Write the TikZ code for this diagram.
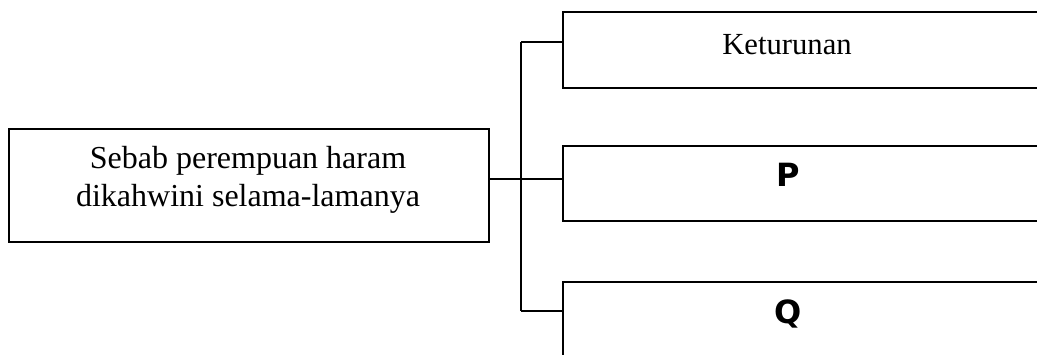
\documentclass[tikz,border=0pt]{standalone}
\usepackage{fontspec}
\setmainfont{Liberation Serif}
\newfontfamily\boldsans{DejaVu Sans Bold}
\usepackage{tikz}

\tikzset{
  boxnode/.style={draw, line width=1.4pt, anchor=north west, inner sep=0pt},
  linkline/.style={line width=1.4pt},
}

\begin{document}
\begin{tikzpicture}[x=0.75pt,y=0.75pt,yscale=-1,xscale=1]
\useasboundingbox (0,0) rectangle (1037,354);
\clip (0,0) rectangle (1037,354);

%Shape: Rectangle (left)
\node [boxnode, minimum width=360pt, minimum height=84.75pt] (cause) at (8,128) {};
%Shape: Rectangles (right, open to the edge)
\node [boxnode, minimum width=375pt, minimum height=57pt] (ket) at (562,11) {};
\node [boxnode, minimum width=375pt, minimum height=56.25pt] (pbox) at (562,145) {};
\node [boxnode, minimum width=375pt, minimum height=90pt] (qbox) at (562,281) {};

%Straight Lines
\coordinate (spinetop) at (521,42);
\coordinate (hub) at (521,179);
\coordinate (spinebot) at (521,311);
\draw [linkline] (cause.east |- hub) -- (hub) -- (pbox.west |- hub);
\draw [linkline] (spinetop) -- (spinebot);
\draw [linkline] (spinetop) -- (ket.west |- spinetop);
\draw [linkline] (spinebot) -- (qbox.west |- spinebot);

% Text Node
\node [align=center, font=\fontsize{24}{28.5}\selectfont] (causetxt) at (248,180) {Sebab perempuan haram\\dikahwini selama-lamanya};
% Text Node
\node [font=\fontsize{23}{27}\selectfont] (kettxt) at (787,45) {Keturunan};
% Text Node
\node [font=\boldsans\fontsize{24}{28}\selectfont] (ptxt) at (788,175) {P};
% Text Node
\node [font=\boldsans\fontsize{24}{28}\selectfont] (qtxt) at (788,314) {Q};
\end{tikzpicture}
\end{document}
